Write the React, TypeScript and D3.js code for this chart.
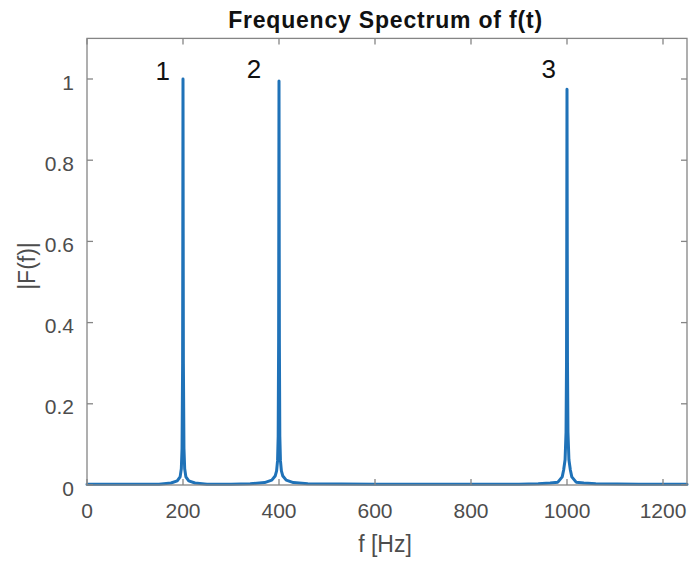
import React from "react";
import * as d3 from "d3";

// Spectrum samples (frequency in Hz, magnitude |F(f)|)
const freqs = [
  0, 100, 150, 175, 188, 194, 196.5, 198, 199.2, 199.6, 200, 200.4, 200.8, 202, 203.5, 206, 212, 225, 250,
  300, 340, 370, 385, 392, 395, 397, 398.3, 399.2, 399.6, 400, 400.4, 400.8, 401.7, 403, 405, 408, 415, 430, 460,
  600, 800, 900, 940, 965, 981, 990, 993, 996, 998, 999, 999.5, 1000, 1000.5, 1001, 1002, 1004, 1007, 1010, 1019, 1035, 1060,
  1150, 1250,
];
const mags = [
  0.002, 0.002, 0.002, 0.005, 0.01, 0.02, 0.04, 0.09, 0.3, 0.62, 1.0, 0.62, 0.3, 0.09, 0.04, 0.02, 0.01, 0.005, 0.002,
  0.002, 0.003, 0.006, 0.012, 0.022, 0.035, 0.06, 0.12, 0.35, 0.65, 0.995, 0.65, 0.35, 0.12, 0.06, 0.035, 0.022, 0.012, 0.006, 0.003,
  0.002, 0.002, 0.002, 0.003, 0.005, 0.007, 0.02, 0.037, 0.062, 0.13, 0.3, 0.6, 0.975, 0.6, 0.3, 0.13, 0.062, 0.037, 0.02, 0.007, 0.005, 0.003,
  0.002, 0.002,
];

const xTicks = [0, 200, 400, 600, 800, 1000, 1200];
const yTicks = [0, 0.2, 0.4, 0.6, 0.8, 1];
const yTickLabels = ["0", "0.2", "0.4", "0.6", "0.8", "1"];

const peakLabels = ["1", "2", "3"];
const peakLabelF = [158, 348, 962];
const peakLabelY = [0.997, 1.002, 1.002];

const title = "Frequency Spectrum of f(t)";
const xLabel = "f [Hz]";
const yLabel = "|F(f)|";

const W = 689;
const H = 561;
const left = 87;
const right = 687;
const top = 38.4;
const bottom = 485;

export default function App() {
  const x = d3.scaleLinear().domain([0, 1250]).range([left, right]);
  const y = d3.scaleLinear().domain([0, 1.1]).range([bottom, top]);
  const pts: [number, number][] = freqs.map((f, i) => [f, mags[i]]);
  const line = d3
    .line<[number, number]>()
    .x((d) => x(d[0]))
    .y((d) => y(d[1]));
  const axisColor = "#858585";
  const labelColor = "#4d4d4d";
  const tickLen = 6;
  const font = "'Liberation Sans', Arial, Helvetica, sans-serif";

  return (
    <svg
      width={W}
      height={H}
      style={{ position: "absolute", left: 0, top: 0, background: "#fff" }}
      fontFamily={font}
    >
      <rect x={0} y={0} width={W} height={H} fill="#fff" />
      {/* data line */}
      <path
        d={line(pts) || ""}
        fill="none"
        stroke="#1f72b8"
        strokeWidth={3}
        strokeLinejoin="round"
        strokeLinecap="round"
      />
      {/* box */}
      <rect
        x={left}
        y={top}
        width={right - left}
        height={bottom - top}
        fill="none"
        stroke={axisColor}
        strokeWidth={1.3}
      />
      {/* x ticks */}
      {xTicks.map((t) => (
        <g key={"xt" + t}>
          <line x1={x(t)} x2={x(t)} y1={bottom} y2={bottom - tickLen} stroke={axisColor} strokeWidth={1.3} />
          <line x1={x(t)} x2={x(t)} y1={top} y2={top + tickLen} stroke={axisColor} strokeWidth={1.3} />
          <text x={x(t)} y={518} textAnchor="middle" fontSize={21} fill={labelColor}>
            {t}
          </text>
        </g>
      ))}
      {/* y ticks */}
      {yTicks.map((t, i) => (
        <g key={"yt" + t}>
          <line x1={left} x2={left + tickLen} y1={y(t)} y2={y(t)} stroke={axisColor} strokeWidth={1.3} />
          <line x1={right} x2={right - tickLen} y1={y(t)} y2={y(t)} stroke={axisColor} strokeWidth={1.3} />
          <text x={74} y={y(t) + 10.5} textAnchor="end" fontSize={21} fill={labelColor}>
            {yTickLabels[i]}
          </text>
        </g>
      ))}
      {/* peak annotations */}
      {peakLabels.map((s, i) => (
        <text key={"pl" + i} x={x(peakLabelF[i])} y={y(peakLabelY[i])} textAnchor="middle" fontSize={26} fill="#111">
          {s}
        </text>
      ))}
      {/* title */}
      <text x={385.5} y={28} textAnchor="middle" fontSize={23} fontWeight="bold" fill="#111" letterSpacing={0.8}>
        {title}
      </text>
      {/* x label */}
      <text x={385} y={552} textAnchor="middle" fontSize={23} fill={labelColor}>
        {xLabel}
      </text>
      {/* y label */}
      <text transform="translate(35,266) rotate(-90)" textAnchor="middle" fontSize={23} fill={labelColor}>
        {yLabel}
      </text>
    </svg>
  );
}
